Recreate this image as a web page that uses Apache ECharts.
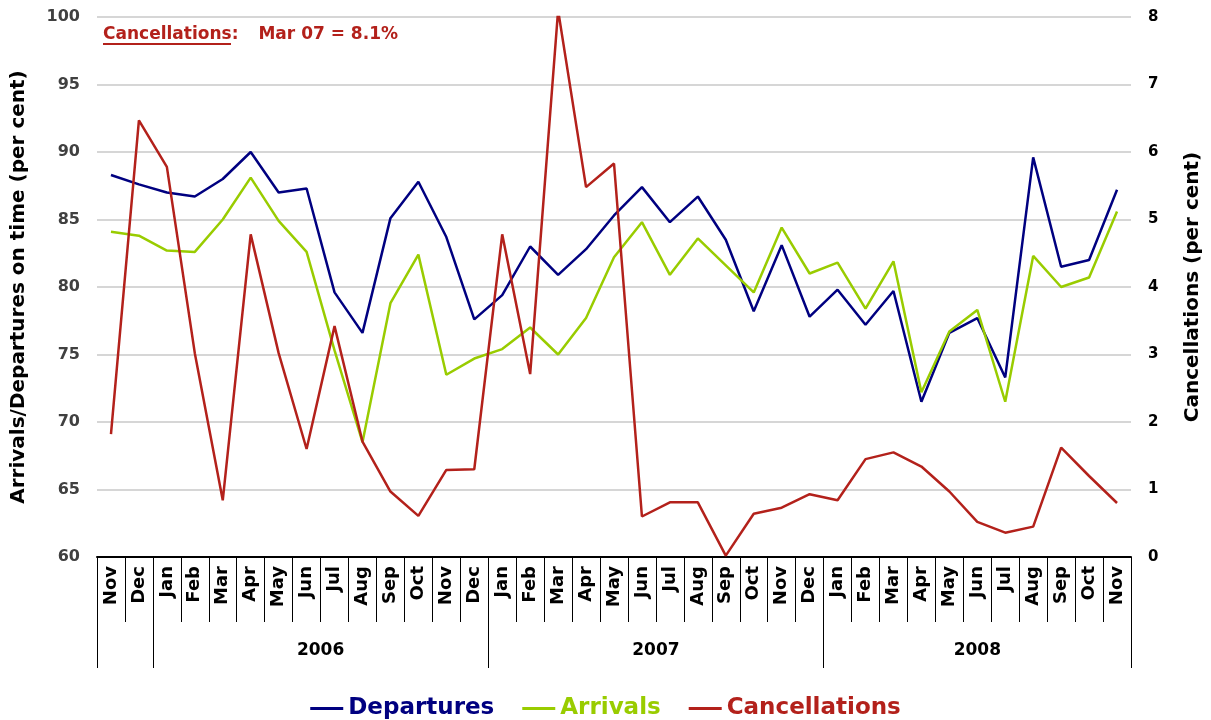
<!DOCTYPE html>
<html>
<head>
<meta charset="utf-8">
<title>On-time performance and cancellations</title>
<script src="https://cdn.jsdelivr.net/npm/echarts@6/dist/echarts.min.js"></script>
<style>
  html, body { margin: 0; padding: 0; background: #fff; }
  #chart { width: 1211px; height: 720px; }
</style>
</head>
<body>
<div id="chart"></div>
<script>
  // Nov 2005 .. Nov 2008, monthly
  const months = [
    "Nov", "Dec",
    "Jan", "Feb", "Mar", "Apr", "May", "Jun", "Jul", "Aug", "Sep", "Oct", "Nov", "Dec",
    "Jan", "Feb", "Mar", "Apr", "May", "Jun", "Jul", "Aug", "Sep", "Oct", "Nov", "Dec",
    "Jan", "Feb", "Mar", "Apr", "May", "Jun", "Jul", "Aug", "Sep", "Oct", "Nov"
  ];
  const years = ["2006", "2007", "2008"];

  const departures = [
    88.3, 87.6, 87.0, 86.7, 88.0, 90.0, 87.0, 87.3, 79.6, 76.6, 85.1, 87.8, 83.7, 77.6,
    79.4, 83.0, 80.9, 82.8, 85.3, 87.4, 84.8, 86.7, 83.5, 78.2, 83.1, 77.8,
    79.8, 77.2, 79.7, 71.5, 76.6, 77.7, 73.3, 89.6, 81.5, 82.0, 87.2
  ];
  const arrivals = [
    84.1, 83.8, 82.7, 82.6, 85.0, 88.1, 84.9, 82.6, 75.3, 68.5, 78.8, 82.4, 73.5, 74.7,
    75.4, 77.0, 75.0, 77.7, 82.2, 84.8, 80.9, 83.6, 81.6, 79.6, 84.4, 81.0,
    81.8, 78.4, 81.9, 72.2, 76.7, 78.3, 71.5, 82.3, 80.0, 80.7, 85.6
  ];
  const cancellations = [
    1.82, 6.47, 5.78, 3.02, 0.84, 4.78, 3.02, 1.60, 3.42, 1.71, 0.97, 0.61, 1.29, 1.30,
    4.78, 2.71, 8.1, 5.48, 5.83, 0.60, 0.81, 0.81, 0.02, 0.64, 0.73, 0.93,
    0.84, 1.45, 1.55, 1.34, 0.97, 0.52, 0.36, 0.45, 1.62, 1.20, 0.80
  ];

  const FONT = "DejaVu Sans";
  const NAVY = "#000080";
  const GREEN = "#99cc00";
  const RED = "#b3211b";

  // year boundaries: first category and every January
  const yearStarts = [0];
  months.forEach((m, i) => { if (m === "Jan") yearStarts.push(i); });
  // centre of each year block in "boundary" units (0 .. months.length)
  const yearCentres = {};
  yearStarts.slice(1).forEach((start, k) => {
    const next = yearStarts[k + 2] !== undefined ? yearStarts[k + 2] : months.length;
    yearCentres[(start + next) / 2] = years[k];
  });

  const chart = echarts.init(document.getElementById("chart"));

  chart.setOption({
    animation: false,
    textStyle: { fontFamily: FONT },
    title: {
      left: 103,
      top: 26,
      padding: 0,
      text: "{a|Cancellations}{b|:}{c|Mar 07 = 8.1%}",
      textStyle: {
        rich: {
          a: { color: RED, fontFamily: FONT, fontWeight: "bold", fontSize: 17 },
          b: { color: RED, fontFamily: FONT, fontWeight: "bold", fontSize: 17, padding: [0, 20, 0, 0] },
          c: { color: RED, fontFamily: FONT, fontWeight: "bold", fontSize: 17 },
        },
      },
    },
    graphic: [{
      type: "line",
      shape: { x1: 103, y1: 44, x2: 231, y2: 44 },
      style: { stroke: RED, lineWidth: 2 },
    }],
    legend: {
      top: 692,
      left: "center",
      icon: "rect",
      itemWidth: 33,
      itemHeight: 3,
      itemGap: 28,
      textStyle: { fontFamily: FONT, fontWeight: "bold", fontSize: 23 },
      data: [
        { name: "Departures", textStyle: { color: NAVY } },
        { name: "Arrivals", textStyle: { color: GREEN } },
        { name: "Cancellations", textStyle: { color: RED } },
      ],
    },
    grid: { left: 97, right: 80, top: 17, bottom: 163 },
    xAxis: [
      {
        type: "category",
        data: months,
        boundaryGap: true,
        axisLine: { show: true, lineStyle: { color: "#000", width: 2 } },
        axisTick: { show: true, interval: 0, length: 65, lineStyle: { color: "#000", width: 1 } },
        axisLabel: {
          interval: 0, rotate: 90, margin: 9,
          color: "#000", fontFamily: FONT, fontWeight: "bold", fontSize: 18,
        },
      },
      {
        type: "category",
        data: months,
        boundaryGap: true,
        position: "bottom",
        axisLine: { show: false },
        axisLabel: { show: false },
        axisTick: {
          show: true,
          interval: (i) => yearStarts.includes(i),
          length: 111,
          lineStyle: { color: "#000", width: 1 },
        },
      },
      {
        type: "value",
        position: "bottom",
        min: 0,
        max: months.length,
        interval: 0.5,
        axisLine: { show: false },
        axisTick: { show: false },
        splitLine: { show: false },
        axisLabel: {
          margin: 85,
          color: "#000", fontFamily: FONT, fontWeight: "bold", fontSize: 17,
          formatter: (v) => yearCentres[v] || "",
        },
      },
    ],
    yAxis: [
      {
        type: "value",
        min: 60,
        max: 100,
        interval: 5,
        name: "Arrivals/Departures on time (per cent)",
        nameLocation: "middle",
        nameRotate: 90,
        nameGap: 68,
        nameTextStyle: { color: "#000", fontFamily: FONT, fontWeight: "bold", fontSize: 20 },
        axisLine: { show: false },
        axisTick: { show: false },
        axisLabel: { margin: 17, color: "#404040", fontFamily: FONT, fontWeight: "bold", fontSize: 16 },
        splitLine: { lineStyle: { color: "#c8c8c8", width: 1.5 } },
      },
      {
        type: "value",
        min: 0,
        max: 8,
        interval: 1,
        position: "right",
        name: "Cancellations (per cent)",
        nameLocation: "middle",
        nameRotate: 90,
        nameGap: 52,
        nameTextStyle: { color: "#000", fontFamily: FONT, fontWeight: "bold", fontSize: 20 },
        axisLine: { show: false },
        axisTick: { show: false },
        axisLabel: { margin: 17, color: "#000", fontFamily: FONT, fontWeight: "bold", fontSize: 15 },
        splitLine: { show: false },
      },
    ],
    series: [
      {
        name: "Departures",
        type: "line",
        data: departures,
        yAxisIndex: 0,
        symbol: "none",
        color: NAVY,
        lineStyle: { color: NAVY, width: 2.5 },
      },
      {
        name: "Arrivals",
        type: "line",
        data: arrivals,
        yAxisIndex: 0,
        symbol: "none",
        color: GREEN,
        lineStyle: { color: GREEN, width: 2.5 },
      },
      {
        name: "Cancellations",
        type: "line",
        data: cancellations,
        yAxisIndex: 1,
        symbol: "none",
        color: RED,
        lineStyle: { color: RED, width: 2.5 },
      },
    ],
  });
</script>
</body>
</html>
